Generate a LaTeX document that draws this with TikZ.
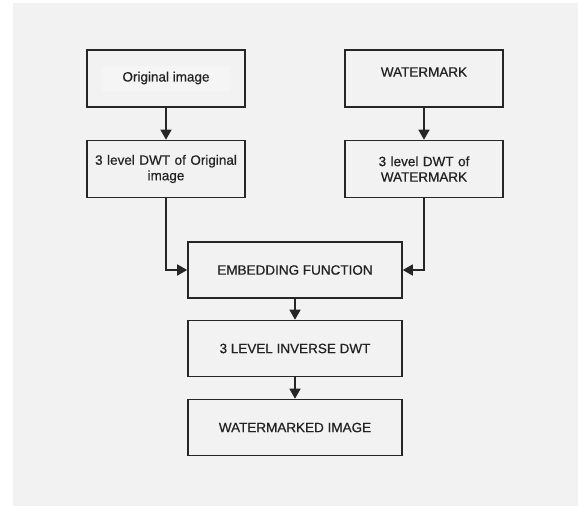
\documentclass[tikz,border=0pt]{standalone}
\usepackage{fontspec}
\setmainfont{Liberation Sans}
\newfontfamily\boxfont{Liberation Sans}[FakeBold=0.5]
\usetikzlibrary{arrows.meta}
\definecolor{panel}{HTML}{F2F2F2}
\definecolor{ink}{HTML}{262626}
\definecolor{textbg}{HTML}{F5F5F5}
\begin{document}
\begin{tikzpicture}[x=1pt,y=-1pt,
  label text/.style={font=\boxfont\fontsize{13.5}{15.5}\selectfont,text=ink!90!black},
  box/.style={draw=ink,line width=1.6pt,rectangle,inner sep=0pt,align=center,label text},
  smallbox/.style={box,minimum width=158pt,minimum height=57pt,text width=154pt},
  widebox/.style={box,minimum width=214pt,minimum height=56pt},
  flow/.style={draw=ink,line width=1.4pt,-{Triangle[width=11pt,length=10pt]}}]
  % page and grey panel
  \useasboundingbox (0,0) rectangle (578,506);
  \fill[white] (0,0) rectangle (578,506);
  \fill[panel] (13,3) rectangle (578,506);

  % input boxes
  \node[smallbox] (orig) at (166,78.5) {};
  \node[fill=textbg,minimum width=128pt,minimum height=25pt,inner sep=0pt,
    label text] (origtext) at (166,78) {Original image};
  \node[smallbox] (dwto) at (166,169) {3 level DWT of Original\\image};
  \node[smallbox] (wm) at (424,78.5) {};
  \node[label text] (wmtext) at (424,72) {WATERMARK};
  \node[smallbox] (dwtw) at (424,169) {3 level DWT of\\WATERMARK};

  % processing chain
  \node[widebox] (emb) at (295,270) {EMBEDDING FUNCTION};
  \node[widebox] (idwt) at (295,348.5) {3 LEVEL INVERSE DWT};
  \node[widebox] (out) at (295,427.5) {WATERMARKED IMAGE};

  % connectors
  \draw[flow] (orig) -- (dwto);
  \draw[flow] (wm) -- (dwtw);
  \draw[flow] (dwto.south) |- (emb.west);
  \draw[flow] (dwtw.south) |- (emb.east);
  \draw[flow] (emb) -- (idwt);
  \draw[flow] (idwt) -- (out);
\end{tikzpicture}
\end{document}
